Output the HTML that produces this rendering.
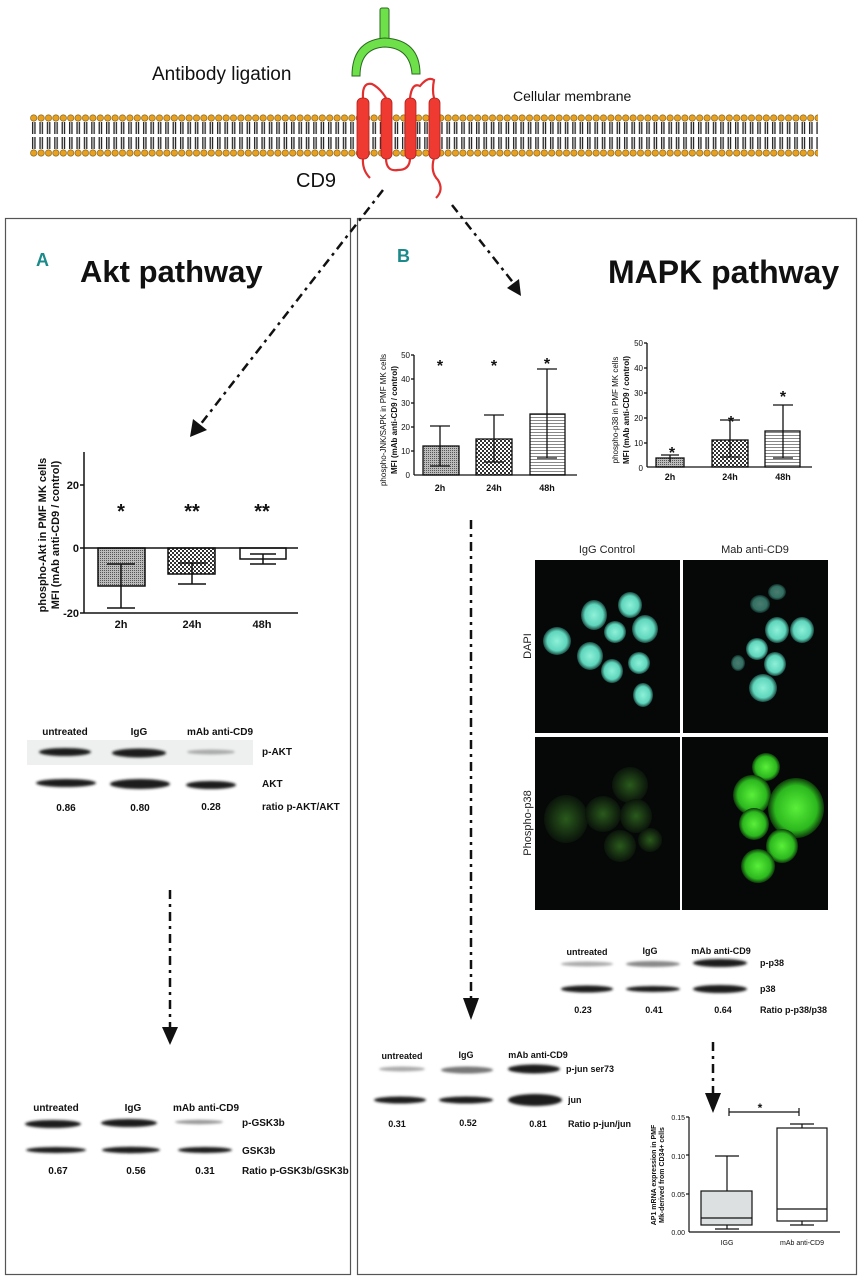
<!DOCTYPE html>
<html><head><meta charset="utf-8"><style>
body{margin:0;background:#fff}
svg{display:block}
text{font-family:"Liberation Sans",sans-serif}
</style></head><body>
<svg width="861" height="1280" viewBox="0 0 861 1280" xmlns="http://www.w3.org/2000/svg">
<defs>
<pattern id="heads" x="30" y="114" width="7.4" height="44" patternUnits="userSpaceOnUse">
<circle cx="3.7" cy="4" r="3.2" fill="#e8a020" stroke="#7a5a10" stroke-width="0.6"/>
<circle cx="3.7" cy="39" r="3.2" fill="#e8a020" stroke="#7a5a10" stroke-width="0.6"/>
<rect x="2" y="8" width="1.3" height="12" fill="#222"/><rect x="4.3" y="8" width="1.3" height="12" fill="#222"/>
<rect x="2" y="23" width="1.3" height="12" fill="#222"/><rect x="4.3" y="23" width="1.3" height="12" fill="#222"/>
</pattern>
<pattern id="chk" width="4" height="4" patternUnits="userSpaceOnUse">
<rect width="4" height="4" fill="#fff"/><rect width="2" height="2" fill="#333"/><rect x="2" y="2" width="2" height="2" fill="#333"/>
</pattern>
<pattern id="fine" width="2" height="2" patternUnits="userSpaceOnUse">
<rect width="2" height="2" fill="#bbb"/><rect width="1" height="1" fill="#555"/>
</pattern>
<pattern id="hl" width="4" height="3" patternUnits="userSpaceOnUse">
<rect width="4" height="3" fill="#fff"/><rect width="4" height="1" fill="#888"/>
</pattern>
<radialGradient id="dapi"><stop offset="0" stop-color="#8ff0d8"/><stop offset="0.7" stop-color="#5fd6bd"/><stop offset="1" stop-color="#1a4a40"/></radialGradient>
<radialGradient id="gB"><stop offset="0" stop-color="#5aef3a"/><stop offset="0.75" stop-color="#2cb81e"/><stop offset="1" stop-color="#0d3a0a"/></radialGradient>
<radialGradient id="gD"><stop offset="0" stop-color="#2a5a1c"/><stop offset="1" stop-color="#0a140a"/></radialGradient>
<filter id="bl"><feGaussianBlur stdDeviation="1.3"/></filter>
</defs>

<!-- membrane -->
<rect x="30" y="114" width="788" height="44" fill="url(#heads)"/>
<!-- antibody -->
<rect x="380" y="8" width="9" height="32" rx="2" fill="#6ee04a" stroke="#2a6a20" stroke-width="1"/>
<path d="M352 76 Q352 40 385 38 Q420 40 420 74 L412 74 Q410 48 385 47 Q360 48 360 76 Z" fill="#6ee04a" stroke="#2a6a20" stroke-width="1"/>
<!-- CD9 loops -->
<g fill="none" stroke="#e03030" stroke-width="2.2">
<path d="M363 98 Q362 82 372 84 Q380 88 386 98"/>
<path d="M410 98 Q412 82 420 86 Q428 76 434 80 Q432 90 434 98"/>
<path d="M386 158 Q386 172 398 170 Q410 170 410 158"/>
<path d="M363 158 Q362 170 370 178"/>
<path d="M434 158 Q430 172 438 180 Q444 190 436 198"/>
</g>
<g fill="#ee3a30" stroke="#b02020" stroke-width="0.8">
<rect x="357" y="98" width="12" height="61" rx="5"/>
<rect x="381" y="98" width="11" height="61" rx="5"/>
<rect x="405" y="98" width="11" height="61" rx="5"/>
<rect x="429" y="98" width="11" height="61" rx="5"/>
</g>
<text x="152" y="80" font-size="19" fill="#111">Antibody ligation</text>
<text x="513" y="101" font-size="14" fill="#111">Cellular membrane</text>
<text x="296" y="187" font-size="20" fill="#111">CD9</text>

<!-- panels -->
<rect x="5.5" y="218.5" width="345" height="1056" fill="none" stroke="#555" stroke-width="1.2"/>
<rect x="357.5" y="218.5" width="499" height="1056" fill="none" stroke="#555" stroke-width="1.2"/>
<text x="36" y="266" font-size="18" font-weight="bold" fill="#1a8a8a">A</text>
<text x="80" y="282" font-size="31" font-weight="bold" fill="#111">Akt pathway</text>
<text x="397" y="262" font-size="18" font-weight="bold" fill="#1a8a8a">B</text>
<text x="608" y="283" font-size="32" font-weight="bold" fill="#111">MAPK pathway</text>

<!-- arrows -->
<g stroke="#111" stroke-width="2.5" stroke-dasharray="9,5,3,5" fill="none">
<line x1="383" y1="190" x2="200" y2="425"/>
<line x1="452" y1="205" x2="515" y2="285"/>
<line x1="170" y1="890" x2="170" y2="1030"/>
<line x1="471" y1="520" x2="471" y2="1000"/>
<line x1="713" y1="1042" x2="713" y2="1097"/>
</g>
<g fill="#111">
<polygon points="190,437 193,419 207,430"/>
<polygon points="521,296 507,288 519,279"/>
<polygon points="170,1045 162,1027 178,1027"/>
<polygon points="471,1020 463,998 479,998"/>
<polygon points="713,1113 705,1093 721,1093"/>
</g>

<!-- Akt chart -->
<g font-size="11" font-weight="bold" fill="#111">
<text transform="translate(46,535) rotate(-90)" text-anchor="middle">phospho-Akt in PMF MK cells</text>
<text transform="translate(59,535) rotate(-90)" text-anchor="middle">MFI (mAb anti-CD9 / control)</text>
<text x="79" y="489" text-anchor="end">20</text>
<text x="79" y="552" text-anchor="end">0</text>
<text x="79" y="617" text-anchor="end">-20</text>
<text x="121" y="628" text-anchor="middle">2h</text>
<text x="192" y="628" text-anchor="middle">24h</text>
<text x="262" y="628" text-anchor="middle">48h</text>
</g>
<g font-size="20" font-weight="bold" text-anchor="middle" fill="#111">
<text x="121" y="518">*</text><text x="192" y="518">**</text><text x="262" y="518">**</text>
</g>
<g stroke="#111" stroke-width="1.5" fill="none">
<rect x="98" y="548" width="47" height="38" fill="url(#fine)"/>
<rect x="168" y="548" width="47" height="26" fill="url(#chk)"/>
<rect x="240" y="548" width="46" height="11" fill="#fff"/>
<line x1="84" y1="452" x2="84" y2="613"/>
<line x1="80" y1="485" x2="84" y2="485"/><line x1="80" y1="548" x2="84" y2="548"/><line x1="80" y1="613" x2="84" y2="613"/>
<line x1="84" y1="548" x2="298" y2="548"/>
<line x1="84" y1="613" x2="298" y2="613"/>
<line x1="121" y1="564" x2="121" y2="608"/><line x1="107" y1="608" x2="135" y2="608"/><line x1="107" y1="564" x2="135" y2="564"/>
<line x1="192" y1="563" x2="192" y2="584"/><line x1="178" y1="584" x2="206" y2="584"/><line x1="178" y1="563" x2="206" y2="563"/>
<line x1="263" y1="554" x2="263" y2="564"/><line x1="250" y1="564" x2="276" y2="564"/><line x1="250" y1="554" x2="276" y2="554"/>
</g>

<!-- Akt blot -->
<rect x="27" y="740" width="226" height="25" fill="#eef0f0"/>
<g filter="url(#bl)" fill="#1a1a1a">
<ellipse cx="65" cy="752" rx="26" ry="4"/><ellipse cx="139" cy="753" rx="27" ry="4.5"/><ellipse cx="211" cy="752" rx="24" ry="2.5" fill="#aaa"/>
<ellipse cx="66" cy="783" rx="30" ry="4"/><ellipse cx="140" cy="784" rx="30" ry="5"/><ellipse cx="211" cy="785" rx="25" ry="4"/>
</g>
<g font-size="10" font-weight="bold" fill="#111">
<text x="65" y="735" text-anchor="middle">untreated</text><text x="139" y="735" text-anchor="middle">IgG</text><text x="220" y="735" text-anchor="middle">mAb anti-CD9</text>
<text x="262" y="755">p-AKT</text><text x="262" y="787">AKT</text>
<text x="66" y="811" text-anchor="middle">0.86</text><text x="140" y="811" text-anchor="middle">0.80</text><text x="211" y="810" text-anchor="middle">0.28</text>
<text x="262" y="810">ratio p-AKT/AKT</text>
</g>

<!-- GSK3b blot -->
<g filter="url(#bl)" fill="#1a1a1a">
<ellipse cx="53" cy="1124" rx="28" ry="4"/><ellipse cx="129" cy="1123" rx="28" ry="4"/><ellipse cx="199" cy="1122" rx="24" ry="2.2" fill="#999"/>
<ellipse cx="56" cy="1150" rx="30" ry="3"/><ellipse cx="131" cy="1150" rx="29" ry="3.2"/><ellipse cx="205" cy="1150" rx="27" ry="3"/>
</g>
<g font-size="10" font-weight="bold" fill="#111">
<text x="56" y="1111" text-anchor="middle">untreated</text><text x="133" y="1111" text-anchor="middle">IgG</text><text x="206" y="1111" text-anchor="middle">mAb anti-CD9</text>
<text x="242" y="1126">p-GSK3b</text><text x="242" y="1154">GSK3b</text>
<text x="58" y="1174" text-anchor="middle">0.67</text><text x="136" y="1174" text-anchor="middle">0.56</text><text x="205" y="1174" text-anchor="middle">0.31</text>
<text x="242" y="1174">Ratio p-GSK3b/GSK3b</text>
</g>

<!-- MAPK chart 1 -->
<g font-size="8" fill="#111">
<text transform="translate(386,420) rotate(-90)" text-anchor="middle">phospho-JNK/SAPK in PMF MK cells</text>
<text transform="translate(397,420) rotate(-90)" text-anchor="middle" font-weight="bold">MFI (mAb anti-CD9 / control)</text>
<text x="410" y="358" text-anchor="end">50</text><text x="410" y="382" text-anchor="end">40</text><text x="410" y="406" text-anchor="end">30</text>
<text x="410" y="430" text-anchor="end">20</text><text x="410" y="454" text-anchor="end">10</text><text x="410" y="478" text-anchor="end">0</text>
</g>
<g font-size="9" font-weight="bold" fill="#111" text-anchor="middle">
<text x="440" y="491">2h</text><text x="494" y="491">24h</text><text x="547" y="491">48h</text>
</g>
<g font-size="16" font-weight="bold" fill="#111" text-anchor="middle">
<text x="440" y="371">*</text><text x="494" y="371">*</text><text x="547" y="369">*</text>
</g>
<g stroke="#111" stroke-width="1.3" fill="none">
<rect x="423" y="446" width="36" height="29" fill="url(#fine)"/>
<rect x="476" y="439" width="36" height="36" fill="url(#chk)"/>
<rect x="530" y="414" width="35" height="61" fill="url(#hl)"/>
<line x1="414" y1="355" x2="414" y2="475"/><line x1="414" y1="475" x2="577" y2="475"/>
<line x1="411" y1="355" x2="414" y2="355"/><line x1="411" y1="379" x2="414" y2="379"/><line x1="411" y1="403" x2="414" y2="403"/><line x1="411" y1="427" x2="414" y2="427"/><line x1="411" y1="451" x2="414" y2="451"/>
<line x1="440" y1="426" x2="440" y2="466"/><line x1="430" y1="426" x2="450" y2="426"/><line x1="430" y1="466" x2="450" y2="466"/>
<line x1="494" y1="415" x2="494" y2="462"/><line x1="484" y1="415" x2="504" y2="415"/><line x1="484" y1="462" x2="504" y2="462"/>
<line x1="547" y1="369" x2="547" y2="458"/><line x1="537" y1="369" x2="557" y2="369"/><line x1="537" y1="458" x2="557" y2="458"/>
</g>

<!-- MAPK chart 2 -->
<g font-size="8" fill="#111">
<text transform="translate(618,410) rotate(-90)" text-anchor="middle">phospho-p38 in PMF MK cells</text>
<text transform="translate(629,410) rotate(-90)" text-anchor="middle" font-weight="bold">MFI (mAb anti-CD9 / control)</text>
<text x="643" y="346" text-anchor="end">50</text><text x="643" y="371" text-anchor="end">40</text><text x="643" y="396" text-anchor="end">30</text>
<text x="643" y="421" text-anchor="end">20</text><text x="643" y="446" text-anchor="end">10</text><text x="643" y="471" text-anchor="end">0</text>
</g>
<g font-size="9" font-weight="bold" fill="#111" text-anchor="middle">
<text x="670" y="480">2h</text><text x="730" y="480">24h</text><text x="783" y="480">48h</text>
</g>
<g font-size="16" font-weight="bold" fill="#111" text-anchor="middle">
<text x="672" y="458">*</text><text x="731" y="427">*</text><text x="783" y="402">*</text>
</g>
<g stroke="#111" stroke-width="1.3" fill="none">
<rect x="656" y="458" width="28" height="9" fill="url(#fine)"/>
<rect x="712" y="440" width="36" height="27" fill="url(#chk)"/>
<rect x="765" y="431" width="35" height="36" fill="url(#hl)"/>
<line x1="647" y1="343" x2="647" y2="467"/><line x1="647" y1="467" x2="812" y2="467"/>
<line x1="644" y1="343" x2="647" y2="343"/><line x1="644" y1="368" x2="647" y2="368"/><line x1="644" y1="393" x2="647" y2="393"/><line x1="644" y1="418" x2="647" y2="418"/><line x1="644" y1="443" x2="647" y2="443"/>
<line x1="670" y1="455" x2="670" y2="462"/><line x1="661" y1="455" x2="679" y2="455"/>
<line x1="730" y1="420" x2="730" y2="457"/><line x1="720" y1="420" x2="740" y2="420"/><line x1="720" y1="457" x2="740" y2="457"/>
<line x1="783" y1="405" x2="783" y2="458"/><line x1="773" y1="405" x2="793" y2="405"/><line x1="773" y1="458" x2="793" y2="458"/>
</g>

<!-- fluorescence -->
<text x="607" y="553" font-size="11" fill="#222" text-anchor="middle">IgG Control</text>
<text x="755" y="553" font-size="11" fill="#222" text-anchor="middle">Mab anti-CD9</text>
<text transform="translate(531,646) rotate(-90)" font-size="11" fill="#222" text-anchor="middle">DAPI</text>
<text transform="translate(531,823) rotate(-90)" font-size="11" fill="#222" text-anchor="middle">Phospho-p38</text>
<rect x="535" y="560" width="145" height="173" fill="#060808"/>
<rect x="683" y="560" width="145" height="173" fill="#060808"/>
<rect x="535" y="737" width="145" height="173" fill="#060808"/>
<rect x="682" y="737" width="146" height="173" fill="#060808"/>
<g fill="url(#dapi)">
<circle cx="557" cy="641" r="14"/><ellipse cx="594" cy="615" rx="13" ry="15"/><ellipse cx="630" cy="605" rx="12" ry="13"/>
<ellipse cx="615" cy="632" rx="11" ry="11"/><ellipse cx="645" cy="629" rx="13" ry="14"/><ellipse cx="590" cy="656" rx="13" ry="14"/>
<ellipse cx="612" cy="671" rx="11" ry="12"/><ellipse cx="639" cy="663" rx="11" ry="11"/><ellipse cx="643" cy="695" rx="10" ry="12"/>
<ellipse cx="777" cy="630" rx="12" ry="13"/><ellipse cx="802" cy="630" rx="12" ry="13"/><ellipse cx="757" cy="649" rx="11" ry="11"/>
<ellipse cx="775" cy="664" rx="11" ry="12"/><ellipse cx="763" cy="688" rx="14" ry="14"/>
</g>
<g fill="url(#dapi)" opacity="0.5">
<ellipse cx="760" cy="604" rx="10" ry="9"/><ellipse cx="777" cy="592" rx="9" ry="8"/><ellipse cx="738" cy="663" rx="7" ry="8"/>
</g>
<g fill="url(#gD)">
<ellipse cx="566" cy="819" rx="22" ry="24"/><ellipse cx="603" cy="814" rx="18" ry="18"/><ellipse cx="630" cy="785" rx="18" ry="18"/>
<ellipse cx="636" cy="816" rx="16" ry="17"/><ellipse cx="620" cy="846" rx="16" ry="16"/><ellipse cx="650" cy="840" rx="12" ry="12"/>
</g>
<g fill="url(#gB)">
<ellipse cx="766" cy="767" rx="14" ry="14"/><ellipse cx="752" cy="795" rx="19" ry="20"/><ellipse cx="796" cy="808" rx="28" ry="30"/>
<ellipse cx="754" cy="824" rx="15" ry="16"/><ellipse cx="782" cy="846" rx="16" ry="17"/><ellipse cx="758" cy="866" rx="17" ry="17"/>
</g>

<!-- p38 blot -->
<g filter="url(#bl)" fill="#1a1a1a">
<ellipse cx="587" cy="964" rx="26" ry="2.5" fill="#aaa"/><ellipse cx="653" cy="964" rx="27" ry="3" fill="#888"/><ellipse cx="720" cy="963" rx="27" ry="4"/>
<ellipse cx="587" cy="989" rx="26" ry="3.5"/><ellipse cx="653" cy="989" rx="27" ry="3"/><ellipse cx="720" cy="989" rx="27" ry="4"/>
</g>
<g font-size="9" font-weight="bold" fill="#111">
<text x="587" y="955" text-anchor="middle">untreated</text><text x="650" y="954" text-anchor="middle">IgG</text><text x="721" y="954" text-anchor="middle">mAb anti-CD9</text>
<text x="760" y="966">p-p38</text><text x="760" y="992">p38</text>
<text x="583" y="1013" text-anchor="middle">0.23</text><text x="654" y="1013" text-anchor="middle">0.41</text><text x="723" y="1013" text-anchor="middle">0.64</text>
<text x="760" y="1013">Ratio p-p38/p38</text>
</g>

<!-- jun blot -->
<g filter="url(#bl)" fill="#1a1a1a">
<ellipse cx="402" cy="1069" rx="23" ry="2.5" fill="#aaa"/><ellipse cx="467" cy="1070" rx="26" ry="3.5" fill="#777"/><ellipse cx="534" cy="1069" rx="26" ry="4.5"/>
<ellipse cx="400" cy="1100" rx="26" ry="3.5"/><ellipse cx="466" cy="1100" rx="27" ry="3.5"/><ellipse cx="535" cy="1100" rx="27" ry="6"/>
</g>
<g font-size="9" font-weight="bold" fill="#111">
<text x="402" y="1059" text-anchor="middle">untreated</text><text x="466" y="1058" text-anchor="middle">IgG</text><text x="538" y="1058" text-anchor="middle">mAb anti-CD9</text>
<text x="566" y="1072">p-jun ser73</text><text x="568" y="1103">jun</text>
<text x="397" y="1127" text-anchor="middle">0.31</text><text x="468" y="1126" text-anchor="middle">0.52</text><text x="538" y="1127" text-anchor="middle">0.81</text>
<text x="568" y="1127">Ratio p-jun/jun</text>
</g>

<!-- box plot -->
<g font-size="7" fill="#111">
<text transform="translate(656,1175) rotate(-90)" text-anchor="middle" font-weight="bold">AP1 mRNA expression in PMF</text>
<text transform="translate(664,1175) rotate(-90)" text-anchor="middle" font-weight="bold">Mk-derived from CD34+ cells</text>
<text x="685" y="1120" text-anchor="end">0.15</text><text x="685" y="1159" text-anchor="end">0.10</text>
<text x="685" y="1197" text-anchor="end">0.05</text><text x="685" y="1235" text-anchor="end">0.00</text>
<text x="727" y="1245" text-anchor="middle">IGG</text><text x="802" y="1245" text-anchor="middle">mAb anti-CD9</text>
</g>
<text x="760" y="1112" font-size="12" font-weight="bold" text-anchor="middle" fill="#111">*</text>
<g stroke="#111" stroke-width="1.2" fill="none">
<line x1="729" y1="1112" x2="799" y2="1112"/><line x1="729" y1="1108" x2="729" y2="1116"/><line x1="799" y1="1108" x2="799" y2="1116"/>
<line x1="689" y1="1117" x2="689" y2="1232"/><line x1="689" y1="1232" x2="840" y2="1232"/>
<line x1="686" y1="1117" x2="689" y2="1117"/><line x1="686" y1="1155" x2="689" y2="1155"/><line x1="686" y1="1194" x2="689" y2="1194"/>
<rect x="701" y="1191" width="51" height="34" fill="#dde0e0"/>
<line x1="701" y1="1218" x2="752" y2="1218"/>
<line x1="727" y1="1156" x2="727" y2="1191"/><line x1="715" y1="1156" x2="739" y2="1156"/>
<line x1="727" y1="1225" x2="727" y2="1229"/><line x1="715" y1="1229" x2="739" y2="1229"/>
<rect x="777" y="1128" width="50" height="93" fill="#fff"/>
<line x1="777" y1="1209" x2="827" y2="1209"/>
<line x1="802" y1="1124" x2="802" y2="1128"/><line x1="790" y1="1124" x2="814" y2="1124"/>
<line x1="802" y1="1221" x2="802" y2="1225"/><line x1="790" y1="1225" x2="814" y2="1225"/>
</g>
</svg>
</body></html>
